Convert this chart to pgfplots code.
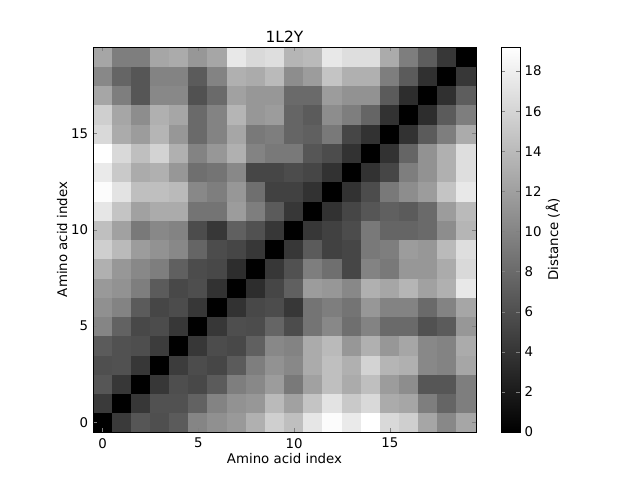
\documentclass[border=0pt]{standalone}
\usepackage{fontspec}
\setmainfont{DejaVu Sans}
\usepackage{pgfplots}
\pgfplotsset{compat=1.18}
\begin{document}
\begin{tikzpicture}
\path[use as bounding box] (-69.75pt,-36pt) rectangle (410.25pt,324pt);
\begin{axis}[
  at={(0,0)}, anchor=south west,
  scale only axis, width=287.25pt, height=288.75pt,
  xmin=-0.5, xmax=19.5, ymin=-0.5, ymax=19.5,
  axis on top, tick align=inside, line width=0.6pt,
  major tick length=3pt,
  xtick={0,5,10,15}, ytick={0,5,10,15},
  /pgf/number format/assume math mode=true,
  tick label style={font=\fontsize{10}{12}\selectfont},
  label style={font=\fontsize{10}{12}\selectfont},
  xlabel={Amino acid index}, ylabel={Amino acid index},
  xticklabel style={yshift=-1pt},
  xlabel style={yshift=3.5pt},
  ylabel style={yshift=-4pt},
  title={1L2Y}, title style={font=\fontsize{11.6}{12}\selectfont, yshift=-6.5pt},
  colormap/blackwhite,
  point meta min=0, point meta max=19.2,
  colorbar,
  colorbar style={
    at={(1.0653,0)}, anchor=south west,
    width=14.25pt,
    ytick={0,2,...,18},
    ylabel={Distance (Å)},
    ylabel style={rotate=0, font=\fontsize{10}{12}\selectfont, yshift=3.75pt},
    tick align=inside, major tick length=3pt,
    yticklabel style={font=\fontsize{10}{12}\selectfont},
    /pgf/number format/assume math mode=true,
  },
]
\addplot[surf, shader=flat corner, mesh/cols=21, mesh/rows=21, point meta=explicit]
table[row sep=\\, header=false, y expr={floor((\coordindex+0.5)/21)-0.5}, x expr={\coordindex-21*floor((\coordindex+0.5)/21)-0.5}, meta index=0] {
0\\4.37\\6.40\\5.87\\6.78\\9.94\\10.77\\11.45\\13.18\\15.44\\14.31\\17.17\\18.82\\17.47\\19.2\\16.19\\15.44\\12.42\\10.17\\12.42\\0\\
4.37\\0\\4.14\\6.02\\6.02\\7.30\\9.79\\10.92\\11.30\\13.93\\12.05\\14.68\\16.94\\15.06\\16.19\\12.80\\12.42\\9.41\\7.53\\9.41\\0\\
6.40\\4.14\\0\\4.14\\5.80\\5.42\\6.78\\9.41\\10.17\\11.67\\9.04\\12.05\\14.31\\12.80\\14.31\\11.67\\10.54\\6.40\\6.40\\9.41\\0\\
5.87\\6.02\\4.14\\0\\4.52\\5.65\\5.27\\6.78\\9.41\\10.92\\10.17\\12.80\\14.31\\13.18\\15.81\\13.55\\13.18\\10.17\\9.79\\12.42\\0\\
6.78\\6.02\\5.80\\4.52\\0\\4.14\\5.65\\5.42\\7.15\\10.17\\9.79\\12.80\\13.93\\11.30\\13.18\\11.30\\12.42\\10.17\\9.79\\12.80\\0\\
9.94\\7.30\\5.42\\5.65\\4.14\\0\\4.14\\5.80\\5.65\\7.53\\5.65\\8.66\\10.17\\8.28\\9.79\\7.91\\7.91\\6.02\\6.78\\11.30\\0\\
10.77\\9.79\\6.78\\5.27\\5.65\\4.14\\0\\3.77\\5.42\\5.65\\4.14\\8.66\\9.41\\8.66\\11.30\\9.79\\9.79\\7.91\\9.79\\12.42\\0\\
11.45\\10.92\\9.41\\6.78\\5.42\\5.80\\3.77\\0\\3.39\\5.27\\7.15\\11.67\\11.30\\10.17\\13.18\\12.42\\13.55\\12.05\\13.18\\17.32\\0\\
13.18\\11.30\\10.17\\9.41\\7.15\\5.65\\5.42\\3.39\\0\\4.14\\6.02\\9.41\\8.28\\5.27\\9.79\\9.04\\11.30\\11.30\\12.80\\16.19\\0\\
15.44\\13.93\\11.67\\10.92\\10.17\\7.53\\5.65\\5.27\\4.14\\0\\4.14\\6.78\\4.89\\5.27\\9.04\\9.41\\11.67\\11.30\\13.93\\16.57\\0\\
14.31\\12.05\\9.04\\10.17\\9.79\\5.65\\4.14\\7.15\\6.02\\4.14\\0\\4.14\\4.89\\5.65\\9.04\\7.53\\7.53\\7.91\\10.54\\13.55\\0\\
17.17\\14.68\\12.05\\12.80\\12.80\\8.66\\8.66\\11.67\\9.41\\6.78\\4.14\\0\\3.77\\5.27\\6.40\\7.15\\6.78\\7.91\\11.67\\13.93\\0\\
18.82\\16.94\\14.31\\14.31\\13.93\\10.17\\9.41\\11.30\\8.28\\4.89\\4.89\\3.77\\0\\3.77\\5.65\\9.04\\10.54\\11.67\\14.68\\17.32\\0\\
17.47\\15.06\\12.80\\13.18\\11.30\\8.28\\8.66\\10.17\\5.27\\5.27\\5.65\\5.27\\3.77\\0\\3.77\\5.27\\9.41\\10.92\\13.18\\16.57\\0\\
19.2\\16.19\\14.31\\15.81\\13.18\\9.79\\11.30\\13.18\\9.79\\9.04\\9.04\\6.40\\5.65\\3.77\\0\\3.77\\7.53\\10.92\\13.18\\16.57\\0\\
16.19\\12.80\\11.67\\13.55\\11.30\\7.91\\9.79\\12.42\\9.04\\9.41\\7.53\\7.15\\9.04\\5.27\\3.77\\0\\3.77\\6.78\\9.41\\12.80\\0\\
15.44\\12.42\\10.54\\13.18\\12.42\\7.91\\9.79\\13.55\\11.30\\11.67\\7.53\\6.78\\10.54\\9.41\\7.53\\3.77\\0\\3.39\\6.78\\9.41\\0\\
12.42\\9.41\\6.40\\10.17\\10.17\\6.02\\7.91\\12.05\\11.30\\11.30\\7.91\\7.91\\11.67\\10.92\\10.92\\6.78\\3.39\\0\\3.61\\6.93\\0\\
10.17\\7.53\\6.40\\9.79\\9.79\\6.78\\9.79\\13.18\\12.80\\13.93\\10.54\\11.67\\14.68\\13.18\\13.18\\9.41\\6.78\\3.61\\0\\4.14\\0\\
12.42\\9.41\\9.41\\12.42\\12.80\\11.30\\12.42\\17.32\\16.19\\16.57\\13.55\\13.93\\17.32\\16.57\\16.57\\12.80\\9.41\\6.93\\4.14\\0\\0\\
0\\0\\0\\0\\0\\0\\0\\0\\0\\0\\0\\0\\0\\0\\0\\0\\0\\0\\0\\0\\0\\
};
\end{axis}
\end{tikzpicture}
\end{document}
